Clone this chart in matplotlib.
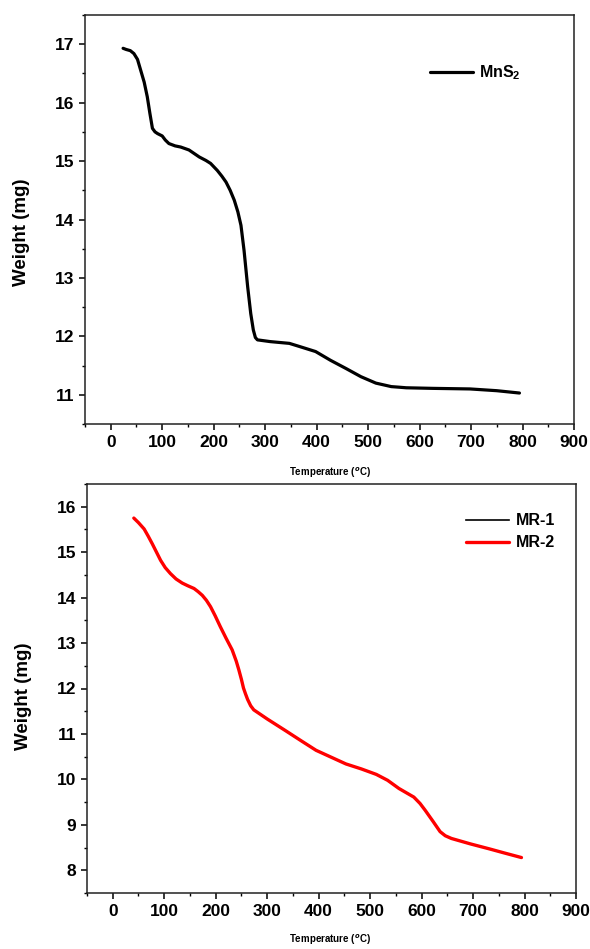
import numpy as np
import matplotlib
matplotlib.use('Agg')
import matplotlib.pyplot as plt
from matplotlib.ticker import MultipleLocator

plt.rcParams['font.family'] = ['Liberation Sans', 'DejaVu Sans']
plt.rcParams['font.weight'] = 'bold'
plt.rcParams['mathtext.fontset'] = 'custom'
plt.rcParams['mathtext.rm'] = 'Liberation Sans:bold'
plt.rcParams['mathtext.bf'] = 'Liberation Sans:bold'

# MnS2 TGA curve
mns2_temp = [24, 30, 38, 45, 52, 58, 65, 71, 76, 81, 86, 91, 100, 106, 113, 125, 136,
             152, 162, 172, 185, 194, 207, 216, 224, 232, 240, 247, 253, 259,
             266, 272, 277, 281, 285, 310, 347, 369, 398, 427, 457, 486,
             515, 545, 560, 574, 625, 698, 750, 794]
mns2_weight = [16.93, 16.91, 16.89, 16.84, 16.74, 16.56, 16.35, 16.10, 15.82, 15.56, 15.50,
               15.47, 15.43, 15.36, 15.30, 15.26, 15.24, 15.19, 15.13, 15.07, 15.01,
               14.96, 14.84, 14.74, 14.64, 14.50, 14.33, 14.13, 13.90, 13.47,
               12.85, 12.39, 12.11, 11.98, 11.94, 11.91, 11.88, 11.82, 11.74, 11.59,
               11.45, 11.31, 11.20, 11.14, 11.13, 11.12, 11.11, 11.10, 11.07, 11.03]

# MR-2 TGA curve; MR-1 lies underneath it and is not visible
mr2_temp = [41, 50, 61, 69, 77, 85, 93, 102, 112, 123, 135, 146, 158, 166, 174,
            182, 190, 199, 209, 220, 232, 240, 245, 250, 254, 258, 262, 268, 274,
            300, 336, 366, 395, 424, 453, 483, 512, 534, 556, 585, 597, 607, 622,
            636, 646, 658, 695, 732, 761, 794]
mr2_weight = [15.75, 15.65, 15.51, 15.35, 15.18, 15.00, 14.82, 14.66, 14.53, 14.41,
              14.32, 14.26, 14.20, 14.13, 14.05, 13.94, 13.80, 13.60, 13.36, 13.11,
              12.85, 12.60, 12.41, 12.20, 12.01, 11.88, 11.76, 11.62, 11.53,
              11.33, 11.07, 10.85, 10.64, 10.49, 10.34, 10.23, 10.11, 9.98, 9.80,
              9.61, 9.47, 9.32, 9.08, 8.85, 8.76, 8.70, 8.58, 8.47, 8.38, 8.28]
mr1_temp = mr2_temp
mr1_weight = mr2_weight

W, H = 590, 949
fig = plt.figure(figsize=(W / 100, H / 100), dpi=100)


def px_axes(left, top, right, bottom):
    return fig.add_axes([left / W, (H - bottom) / H, (right - left) / W, (bottom - top) / H])


def style(ax, ylim, ymaj, label_y):
    ax.set_xlim(-50, 900)
    ax.set_ylim(*ylim)
    ax.xaxis.set_major_locator(MultipleLocator(100))
    ax.xaxis.set_minor_locator(MultipleLocator(50))
    ax.yaxis.set_major_locator(MultipleLocator(ymaj))
    ax.yaxis.set_minor_locator(MultipleLocator(ymaj / 2))
    ax.tick_params(which='major', direction='out', length=4, width=1.1, pad=4)
    ax.tick_params(which='minor', direction='out', length=2.5, width=1.0)
    for lab in ax.get_xticklabels() + ax.get_yticklabels():
        lab.set_fontweight('bold')
        lab.set_fontsize(12.5)
    for s in ax.spines.values():
        s.set_linewidth(1.1)
        s.set_color('#222222')
    ax.set_ylabel('Weight (mg)', fontsize=13.5, fontweight='bold')
    ax.yaxis.set_label_coords(-0.112, label_y)


ax1 = px_axes(85, 15, 574, 424)
ax1.plot(mns2_temp, mns2_weight, color='black', lw=2.3, label=r'MnS$_{2}$',
         solid_joinstyle='round', solid_capstyle='round')
style(ax1, (10.5, 17.5), 1, 0.47)
ax1.legend(loc='center left', bbox_to_anchor=(0.705, 0.858), frameon=False,
           borderpad=0, borderaxespad=0, handlelength=2.7, handletextpad=0.4,
           prop={'weight': 'bold', 'size': 11.5})

ax2 = px_axes(87, 484, 576, 893)
ax2.plot(mr1_temp, mr1_weight, color='black', lw=1.2, label='MR-1')
ax2.plot(mr2_temp, mr2_weight, color='red', lw=2.4, label='MR-2',
         solid_joinstyle='round', solid_capstyle='round')
style(ax2, (7.5, 16.5), 1, 0.48)
ax2.legend(loc='center left', bbox_to_anchor=(0.775, 0.883), frameon=False,
           borderpad=0, borderaxespad=0, handlelength=2.7, handletextpad=0.4,
           labelspacing=0.45, prop={'weight': 'bold', 'size': 11.5})

# small x labels under each panel, as in the source
fig.text(330 / W, 1 - 473 / H, r'Temperature ($^{o}$C)', ha='center', va='center',
         fontsize=7, fontweight='bold')
fig.text(330 / W, 1 - 940 / H, r'Temperature ($^{o}$C)', ha='center', va='center',
         fontsize=7, fontweight='bold')

fig.savefig('out.png', dpi=100)
